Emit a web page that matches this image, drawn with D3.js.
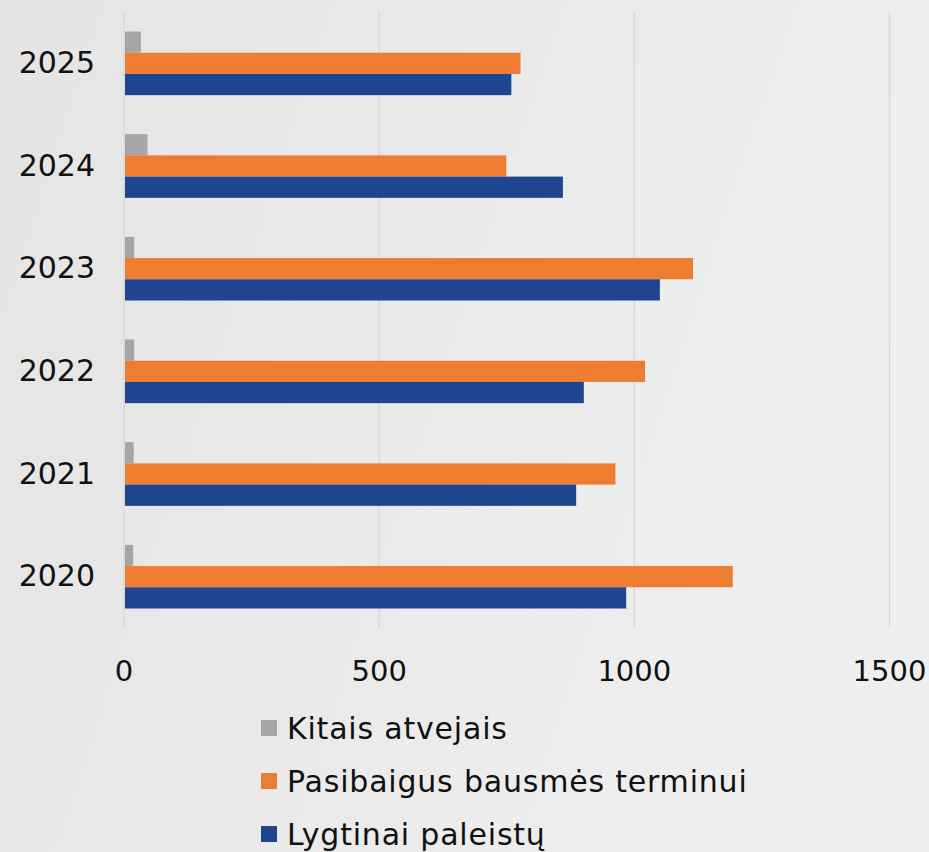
<!DOCTYPE html>
<html><head><meta charset="utf-8">
<script src="https://cdn.jsdelivr.net/npm/d3@7"></script>
<style>html,body{margin:0;padding:0;}svg{display:block;}</style>
</head><body>
<svg id="chart" width="929" height="852"></svg>
<script>
const years = ["2025","2024","2023","2022","2021","2020"];
const seriesNames = ["Kitais atvejais","Pasibaigus bausmės terminui","Lygtinai paleistų"];
const seriesColors = ["#a5a5a5","#ed7d31","#1f4590"];
const kitais =     [33, 46, 20, 20, 19, 18];
const pasibaigus = [777, 749, 1115, 1021, 963, 1193];
const lygtinai =   [759, 860, 1050, 901, 886, 984];
const xTicks = [0, 500, 1000, 1500];

const seriesValues = [kitais, pasibaigus, lygtinai];
const W = 929, H = 852;
const font = "'DejaVu Sans', sans-serif";
const svg = d3.select("#chart");

const defs = svg.append("defs");
const grad = defs.append("linearGradient").attr("id","bg").attr("x1","0").attr("y1","0").attr("x2","1").attr("y2","0.3");
grad.append("stop").attr("offset","0").attr("stop-color","#e4e4e4");
grad.append("stop").attr("offset","1").attr("stop-color","#efefef");
svg.append("rect").attr("width",W).attr("height",H).attr("fill","url(#bg)");

const x = d3.scaleLinear().domain([0,1500]).range([124, 889.5]);
const y = d3.scaleBand().domain(years).range([12, 628]).paddingInner(0.38).paddingOuter(0.19);
const ySub = d3.scaleBand().domain(seriesNames).range([0, y.bandwidth()]);

// gridlines
svg.append("g").selectAll("line").data(xTicks).join("line")
  .attr("x1", d => x(d)).attr("x2", d => x(d))
  .attr("y1", 12).attr("y2", 628)
  .attr("stroke", "#d9d9d9").attr("stroke-width", 1.5);

// bars
const groups = svg.append("g").selectAll("g").data(years).join("g")
  .attr("transform", d => `translate(0,${y(d)})`);
groups.selectAll("rect").data((yr, i) => seriesNames.map((s, j) => ({s, j, v: seriesValues[j][i]})))
  .join("rect")
  .attr("x", x(0) + 1)
  .attr("y", d => ySub(d.s))
  .attr("width", d => x(d.v) - x(0) - 1)
  .attr("height", ySub.bandwidth())
  .attr("fill", d => seriesColors[d.j]);

// y labels
svg.append("g").selectAll("text").data(years).join("text")
  .attr("x", 95).attr("y", d => y(d) + y.bandwidth()/2 - 1)
  .attr("text-anchor","end").attr("dominant-baseline","central")
  .attr("font-family", font).attr("font-size", 30).attr("fill","#111")
  .text(d => d);

// x tick labels
svg.append("g").selectAll("text").data(xTicks).join("text")
  .attr("x", d => x(d)).attr("y", 681)
  .attr("text-anchor","middle")
  .attr("font-family", font).attr("font-size", 29).attr("fill","#111")
  .text(d => d);

// legend
const leg = svg.append("g").selectAll("g").data(seriesNames).join("g")
  .attr("transform", (d,i) => `translate(261,${720 + i*53})`);
leg.append("rect").attr("width",16).attr("height",16).attr("fill",(d,i)=>seriesColors[i]);
leg.append("text").attr("x", 26).attr("y", 19)
  .attr("font-family", font).attr("font-size", 30).attr("letter-spacing", 0.8).attr("fill","#111")
  .text(d => d);
</script>
</body></html>
